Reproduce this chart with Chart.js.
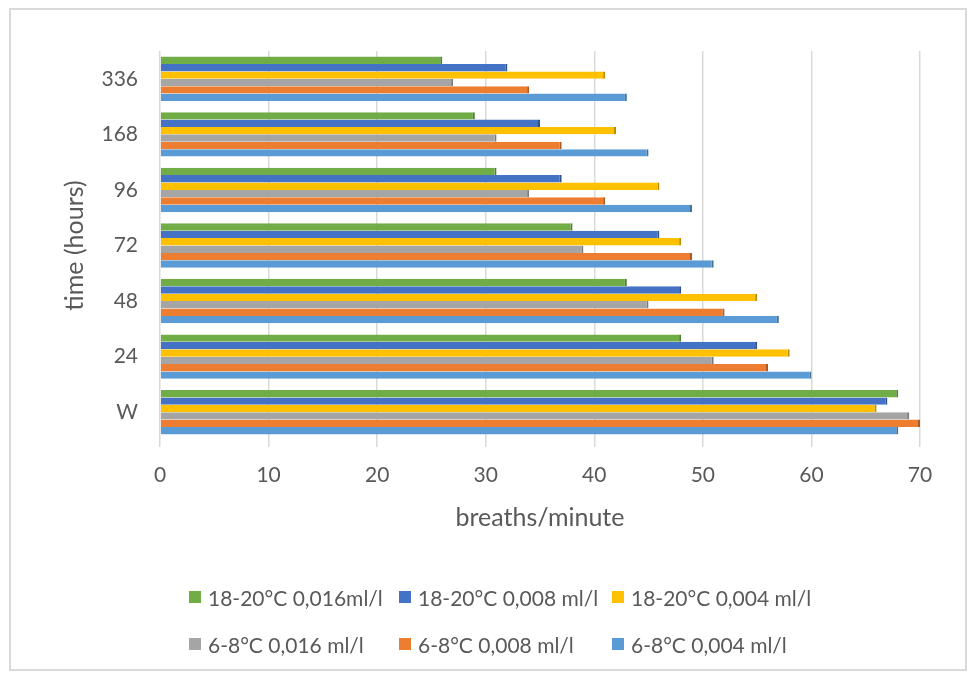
<!DOCTYPE html>
<html>
<head>
<meta charset="utf-8">
<script src="https://cdn.jsdelivr.net/npm/chart.js@4.4.1/dist/chart.umd.min.js"></script>
<style>
  body { margin: 0; background: #fff; }
  #wrap { position: relative; width: 970px; height: 677px; }
  #frame { position: absolute; left: 9px; top: 8px; width: 954px; height: 659px; border: 2px solid #d9d9d9; }
  #chart { position: absolute; left: 0; top: 0; }
  #legend { position: absolute; left: 189px; top: 585px; display: grid;
            grid-template-columns: 210px 213px auto; row-gap: 23px;
            font-family: Lato, sans-serif; font-size: 21px; color: #595959; }
  .item { display: flex; align-items: center; white-space: nowrap; height: 24px; }
  .box { width: 12px; height: 12px; margin-right: 7px; flex: none; }
</style>
</head>
<body>
<div id="wrap">
  <div id="frame"></div>
  <canvas id="chart" width="970" height="677"></canvas>
  <div id="legend"></div>
</div>
<script>
// categories listed top to bottom as they appear on the chart
const categories = ["336", "168", "96", "72", "48", "24", "W"];

const warm016 = [26, 29, 31, 38, 43, 48, 68];
const warm008 = [32, 35, 37, 46, 48, 55, 67];
const warm004 = [41, 42, 46, 48, 55, 58, 66];
const cold016 = [27, 31, 34, 39, 45, 51, 69];
const cold008 = [34, 37, 41, 49, 52, 56, 70];
const cold004 = [43, 45, 49, 51, 57, 60, 68];

const seriesNames = [
  "18-20°C 0,016ml/l", "18-20°C 0,008 ml/l", "18-20°C 0,004 ml/l",
  "6-8°C 0,016 ml/l", "6-8°C 0,008 ml/l", "6-8°C 0,004 ml/l"
];
const seriesValues = [warm016, warm008, warm004, cold016, cold008, cold004];
const fills = ["#70ad47", "#4472c4", "#ffc000", "#a5a5a5", "#ed7d31", "#5b9bd5"];
const edges = ["#507e32", "#2f528f", "#bc8c00", "#7b7b7b", "#ae5a21", "#41719c"];

const textColor = "#595959";
const font = "Lato, sans-serif";

const datasets = seriesNames.map((name, i) => ({
  label: name,
  data: seriesValues[i],
  backgroundColor: fills[i],
  borderColor: edges[i],
  borderWidth: { top: 0, right: 2, bottom: 0, left: 0 },
  categoryPercentage: 0.8,
  barPercentage: 1.0
}));

const chart = new Chart(document.getElementById("chart"), {
  type: "bar",
  data: { labels: categories, datasets },
  options: {
    indexAxis: "y",
    responsive: false,
    animation: false,
    devicePixelRatio: 1,
    layout: { padding: { left: 0, right: 50, top: 51, bottom: 127 } },
    plugins: { legend: { display: false }, tooltip: { enabled: false } },
    scales: {
      x: {
        min: 0, max: 70,
        ticks: { stepSize: 10, color: textColor, padding: 16, font: { family: font, size: 21 } },
        grid: { color: "#d9d9d9", lineWidth: 1.5, tickLength: 7, drawTicks: true },
        border: { display: false },
        title: { display: true, text: "breaths/minute", color: textColor,
                 font: { family: font, size: 25 }, padding: { top: 0, bottom: 17 } },
        afterFit: (s) => { s.height = 110; }
      },
      y: {
        ticks: { color: textColor, padding: 22, font: { family: font, size: 21 } },
        grid: { display: false, drawTicks: false },
        border: { display: false },
        title: { display: true, text: "time (hours)", color: textColor,
                 font: { family: font, size: 25 }, padding: { top: 60, bottom: 0 } },
        afterFit: (s) => { s.width = 160; }
      }
    }
  }
});

// html legend, three columns like the original
const legend = document.getElementById("legend");
chart.data.datasets.forEach((ds) => {
  const item = document.createElement("div");
  item.className = "item";
  const box = document.createElement("span");
  box.className = "box";
  box.style.background = ds.backgroundColor;
  const label = document.createElement("span");
  label.textContent = ds.label;
  item.appendChild(box);
  item.appendChild(label);
  legend.appendChild(item);
});
</script>
</body>
</html>
